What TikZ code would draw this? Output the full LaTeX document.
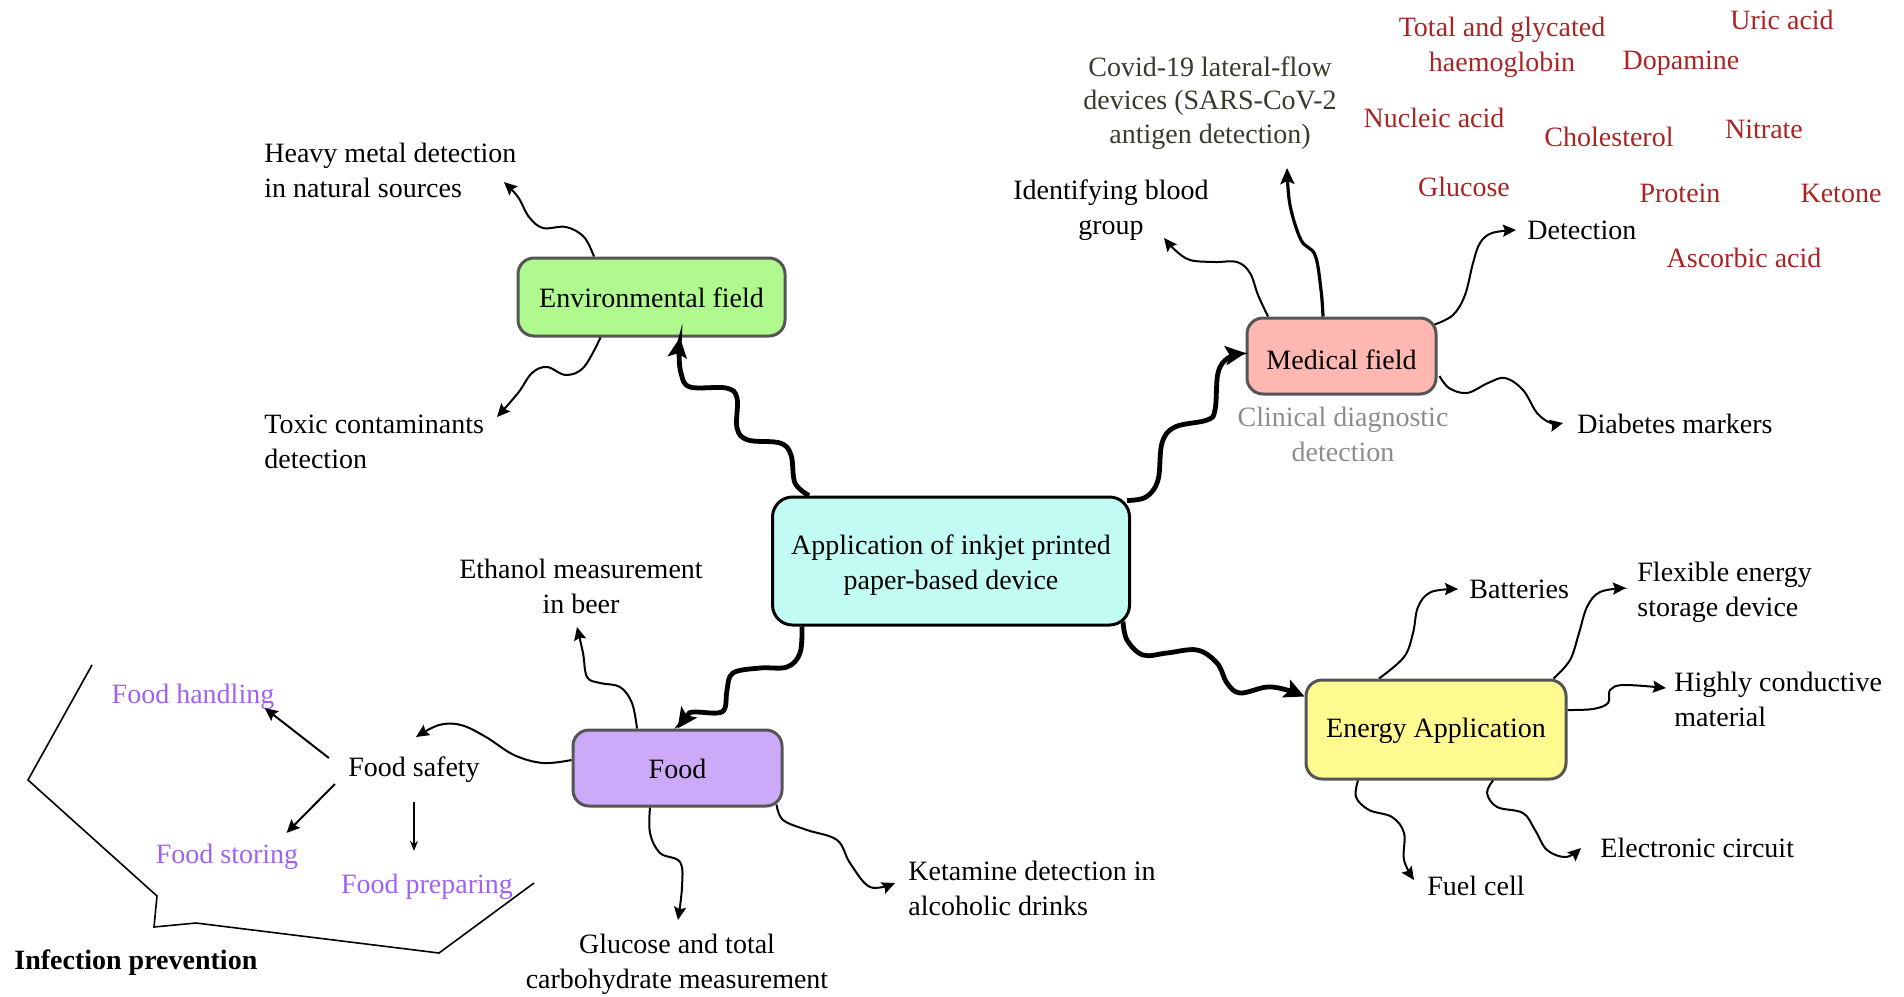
\documentclass[tikz,border=0pt]{standalone}
\usepackage{fontspec}
\setmainfont{Liberation Serif}
\usetikzlibrary{arrows.meta,calc}
\definecolor{cenfill}{HTML}{C2FBF3}
\definecolor{envfill}{HTML}{B0F98F}
\definecolor{medfill}{HTML}{FFB7B2}
\definecolor{enefill}{HTML}{FFFA90}
\definecolor{foodfill}{HTML}{CDA9F9}
\definecolor{boxgray}{HTML}{555555}
\definecolor{redtxt}{HTML}{AA2424}
\definecolor{purtxt}{HTML}{A062F5}
\definecolor{graytxt}{HTML}{8C8C8C}
\definecolor{covtxt}{HTML}{3A3A2C}
\newcommand\myfs{\fontsize{14}{17.5}\selectfont}
\begin{document}
\begin{tikzpicture}[x=0.5pt,y=-0.5pt,
  box/.style={draw=boxgray, line width=1.5pt, rounded corners=8pt, inner sep=0pt, font=\myfs},
  lbl/.style={inner sep=0pt, font=\myfs, align=left},
  clbl/.style={inner sep=0pt, font=\myfs, align=center},
  redlbl/.style={inner sep=0pt, font=\myfs, text=redtxt},
  purlbl/.style={inner sep=0pt, font=\myfs, text=purtxt},
  thinarrow/.style={line width=1pt, -{Stealth[length=6.5pt,width=6pt,inset=1pt]}},
  midarrow/.style={line width=1.6pt, -{Stealth[length=8pt,width=7pt,inset=1.5pt]}},
  thickarrow/.style={line width=2.4pt, -{Stealth[length=10pt,width=9.5pt,inset=2pt]}},
  fine/.style={line width=0.6pt, -{Stealth[length=5pt,width=4pt]}},
  wave/.style={smooth, tension=0.6}
]
\useasboundingbox (0,0) rectangle (1904,996);

% boxes
\node[draw=black, line width=1.5pt, rounded corners=10pt, fill=cenfill, minimum width=178.5pt, minimum height=64pt, inner sep=0pt] (cen) at (951,561) {};
\node[clbl] (cenlbl) at (951,565) {Application of inkjet printed\\paper-based device};
\node[box, fill=envfill, minimum width=133.5pt, minimum height=39pt, text height=10.8pt, text depth=0pt] (env) at (651.5,297) {Environmental field};
\node[box, fill=medfill, minimum width=94.5pt, minimum height=38pt, text height=13pt, text depth=0pt] (med) at (1341.5,356) {Medical field};
\node[box, fill=enefill, minimum width=130pt, minimum height=49.5pt, text height=10.8pt, text depth=3pt] (ene) at (1436,729.5) {Energy Application};
\node[box, fill=foodfill, minimum width=104.5pt, minimum height=38pt, text height=10.5pt, text depth=0pt] (food) at (677.5,768) {Food};

% labels
\node[lbl, anchor=west] (heavy) at (264,170.5) {Heavy metal detection\\in natural sources};
\node[lbl, anchor=west] (toxic) at (264,441.5) {Toxic contaminants\\detection};
\node[clbl] (blood) at (1111,210) {Identifying blood\\group};
\node[clbl, text=covtxt, font=\fontsize{14}{16.8}\selectfont] (covid) at (1210,103) {Covid-19 lateral-flow\\devices (SARS-CoV-2\\antigen detection)};
\node[lbl, anchor=west] (detect) at (1527,230) {Detection};
\node[lbl, anchor=west] (diab) at (1577,424) {Diabetes markers};
\node[clbl, text=graytxt] (clin) at (1343,434) {Clinical diagnostic\\detection};

\node[redlbl, align=center] (hb) at (1502,47) {Total and glycated\\haemoglobin};
\node[redlbl] (uric) at (1782,20) {Uric acid};
\node[redlbl] (dopa) at (1681,63) {Dopamine};
\node[redlbl] (nucl) at (1434,118) {Nucleic acid};
\node[redlbl] (chol) at (1609,137) {Cholesterol};
\node[redlbl] (nitr) at (1764,129) {Nitrate};
\node[redlbl] (gluc) at (1464,187) {Glucose};
\node[redlbl] (prot) at (1680,193) {Protein};
\node[redlbl] (keto) at (1841,193) {Ketone};
\node[redlbl] (asco) at (1744,258) {Ascorbic acid};

\node[lbl, anchor=west] (batt) at (1469,589) {Batteries};
\node[lbl, anchor=west] (flex) at (1637,592) {Flexible energy\\storage device};
\node[lbl, anchor=west] (high) at (1674,699) {Highly conductive\\material};
\node[lbl, anchor=west] (elec) at (1600,848) {Electronic circuit};
\node[lbl, anchor=west] (fuel) at (1427,886) {Fuel cell};

\node[clbl] (eth) at (581,586) {Ethanol measurement\\in beer};
\node[clbl] (glc) at (677,964) {Glucose and total\\carbohydrate measurement};
\node[lbl, anchor=west] (keta) at (908,888) {Ketamine detection in\\alcoholic drinks};
\node[clbl] (fs) at (414,770) {Food safety};
\node[purlbl] (fh) at (193,697) {Food handling};
\node[purlbl] (fst) at (227,857) {Food storing};
\node[purlbl] (fp) at (427,887) {Food preparing};
\node[lbl, anchor=west, font=\myfs\bfseries] (inf) at (14,963) {Infection prevention};

% connector end points
\coordinate (a1) at ($(cen.north)+(-142,0)$);
\coordinate (b1) at ($(env.south)+(28.5,0)$);
\coordinate (a2) at ($(cen.north east)+(-4,5)$);
\coordinate (b2) at ($(med.west)+(0,-3)$);
\coordinate (a3) at ($(cen.south)+(-149,0)$);
\coordinate (b3) at (food.north);
\coordinate (a4) at ($(cen.south east)+(-8,-5)$);
\coordinate (b4) at ($(ene.north west)+(0,18)$);

\coordinate (e1) at ($(env.north)+(-57.5,0)$);
\coordinate (heavyTip) at (504,182);
\coordinate (e2) at ($(env.south)+(-51,0)$);
\coordinate (toxTip) at (497,417);

\coordinate (m1) at ($(med.north)+(-73.5,0)$);
\coordinate (bloodTip) at (1164,238);
\coordinate (m2) at ($(med.north)+(-18.5,0)$);
\coordinate (covTip) at (1287,168);
\coordinate (m3) at ($(med.north east)+(-3,8)$);
\coordinate (detTip) at (1516,230);
\coordinate (m4) at ($(med.east)+(2,20)$);
\coordinate (diaTip) at (1563,423);

\coordinate (n1) at ($(ene.north)+(-57,0)$);
\coordinate (battTip) at (1458,589);
\coordinate (n2) at ($(ene.north east)+(-14,0)$);
\coordinate (flexTip) at (1626,588);
\coordinate (n3) at ($(ene.east)+(0,-19.5)$);
\coordinate (highTip) at (1666,688);
\coordinate (n4) at ($(ene.south)+(57,0)$);
\coordinate (elecTip) at (1581,848);
\coordinate (n5) at ($(ene.south)+(-78,0)$);
\coordinate (fuelTip) at (1414,880);

\coordinate (f1) at ($(food.north)+(-40.5,0)$);
\coordinate (ethTip) at (577,627);
\coordinate (f2) at ($(food.south)+(-27.5,0)$);
\coordinate (glcTip) at (678,920);
\coordinate (f3) at ($(food.south east)+(-7,-3)$);
\coordinate (ketTip) at (895,883);
\coordinate (f4) at ($(food.west)+(0,-8)$);
\coordinate (fsTip) at (416,737);

% main thick connectors
\draw[thickarrow] plot[wave] coordinates {(a1) (795,483) (791,455) (780,443) (748,440) (737,428) (737,398) (726,388) (690,387) (681,373) (679,352) (b1)};
\draw[thickarrow] plot[wave] coordinates {(a2) (1146,497) (1158,480) (1162,443) (1175,427) (1207,420) (1215,410) (1218,373) (1228,358) (b2)};
\draw[thickarrow] plot[wave] coordinates {(a3) (800,653) (787,667) (760,668) (733,673) (727,690) (725,708) (717,713) (693,712) (687,716) (b3)};
\draw[thickarrow] plot[wave] coordinates {(a4) (1127,640) (1143,655) (1167,653) (1197,650) (1217,663) (1227,683) (1240,693) (1267,687) (1287,690) (b4)};

% environmental
\draw[thinarrow] plot[wave] coordinates {(e1) (584,237) (566,227) (543,228) (529,217) (518,197) (heavyTip)};
\draw[thinarrow] plot[wave] coordinates {(e2) (584,367) (566,375) (547,367) (532,373) (518,393) (toxTip)};

% medical
\draw[thinarrow] plot[wave] coordinates {(m1) (1258,295) (1250,273) (1237,262) (1215,262) (1190,260) (1175,250) (bloodTip)};
\draw[midarrow] plot[wave] coordinates {(m2) (1321,290) (1315,255) (1301,240) (1290,205) (covTip)};
\draw[thinarrow] plot[wave] coordinates {(m3) (1453,315) (1465,295) (1473,263) (1480,243) (1492,233) (detTip)};
\draw[thinarrow] plot[wave] coordinates {(m4) (1449,388) (1467,393) (1488,383) (1505,378) (1523,390) (1537,413) (1551,423) (diaTip)};

% energy
\draw[thinarrow] plot[wave] coordinates {(n1) (1404,657) (1413,633) (1418,607) (1431,592) (battTip)};
\draw[thinarrow] plot[wave] coordinates {(n2) (1570,660) (1579,633) (1587,607) (1600,592) (flexTip)};
\draw[thinarrow] plot[wave] coordinates {(n3) (1593,709) (1608,703) (1610,690) (1624,685) (highTip)};
\draw[thinarrow] plot[wave] coordinates {(n4) (1487,793) (1497,807) (1523,813) (1535,830) (1547,850) (1566,857) (elecTip)};
\draw[thinarrow] plot[wave] coordinates {(n5) (1356,797) (1369,810) (1392,817) (1404,833) (1404,860) (fuelTip)};

% food
\draw[thinarrow] plot[wave] coordinates {(f1) (632,703) (620,687) (600,683) (587,677) (583,653) (ethTip)};
\draw[thinarrow] plot[wave] coordinates {(f2) (650,833) (660,853) (680,862) (682,887) (glcTip)};
\draw[thinarrow] plot[wave] coordinates {(f3) (783,820) (807,830) (837,840) (850,863) (870,887) (ketTip)};
\draw[thinarrow] plot[wave] coordinates {(f4) (543,763) (514,755) (486,737) (461,725) (439,725) (fsTip)};

% food safety branches
\draw[thinarrow] ($(fs.west)+(-19,-12)$) -- ($(fh.east)+(-10,11)$);
\draw[thinarrow] ($(fs.west)+(-13,14)$) -- ($(fst.north east)+(-12,-11)$);
\draw[fine] ($(fs.south)+(0,19)$) -- ($(fp.north)+(-13,-23)$);

% infection prevention outline
\draw[line width=0.8pt] (92,665) -- (28,780) -- (157,896) -- (154,927) -- (196,923) -- (439,953) -- (534,883);
\end{tikzpicture}
\end{document}
